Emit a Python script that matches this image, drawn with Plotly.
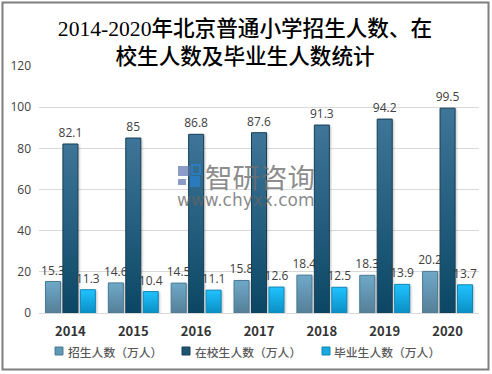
import plotly.graph_objects as go

years = ["2014", "2015", "2016", "2017", "2018", "2019", "2020"]
enrolled = [15.3, 14.6, 14.5, 15.8, 18.4, 18.3, 20.2]
in_school = [82.1, 85, 86.8, 87.6, 91.3, 94.2, 99.5]
graduates = [11.3, 10.4, 11.1, 12.6, 12.5, 13.9, 13.7]
series_names = ["招生人数（万人）", "在校生人数（万人）", "毕业生人数（万人）"]
title_text = "2014-2020年北京普通小学招生人数、在<br>校生人数及毕业生人数统计"

W, H = 492, 374
ML, MR, MT, MB = 39, 13, 66, 61
SANS = "Noto Sans CJK SC, Open Sans, sans-serif"
LABEL = "Open Sans, Noto Sans CJK SC, sans-serif"


def px(x):
    return (x - ML) / (W - ML - MR)


def py(y):
    return 1 - (y - MT) / (H - MT - MB)


def rect(x0, y0, x1, y1, fill, line=None, width=0):
    return dict(type="rect", xref="paper", yref="paper", x0=px(x0), x1=px(x1), y0=py(y0), y1=py(y1),
                line=dict(color=line or "rgba(0,0,0,0)", width=width), fillcolor=fill, layer="above")


fig = go.Figure()
styles = [("#5f97b5", "#4a7a94"), ("#1f5573", "#163f57"), ("#17a9e0", "#0f86b5")]
grads = [("#6fa9c8", "#557f98"), ("#3f7598", "#0b4765"), ("#20c2ff", "#0a8fc4")]
for name, vals, (fill, edge) in zip(series_names, [enrolled, in_school, graduates], styles):
    fig.add_trace(go.Bar(
        x=years, y=vals, name=name, showlegend=False,
        marker=dict(color=fill, line=dict(color=edge, width=1)),
        text=[str(v) for v in vals], textposition="outside",
        textfont=dict(family=LABEL, size=12, color="#404040"),
        constraintext="none", textangle=0, cliponaxis=False,
    ))

shapes = [
    rect(2.5, 2.5, 488.5, 369.5, "rgba(0,0,0,0)", "#7f7f7f", 2),
    rect(178, 166, 190, 176, "rgba(90,115,175,0.7)"),
    rect(178, 179, 186, 185, "rgba(90,115,175,0.7)"),
    rect(190, 176, 200, 187, "rgba(40,130,205,0.75)"),
    rect(192, 165, 200, 174, "rgba(0,0,0,0)", "rgba(40,130,205,0.75)", 2),
]

annotations = [
    dict(text="智研咨询", xref="paper", yref="paper", x=px(260), y=py(175.5), showarrow=False,
         font=dict(family=SANS, size=27.5, color="rgba(110,110,110,0.8)")),
    dict(text="www.chyxx.com", xref="paper", yref="paper", x=px(246), y=py(200), showarrow=False,
         font=dict(family="DejaVu Sans, sans-serif", size=17, color="rgba(100,100,100,0.75)")),
]

swatch_x = [55, 182, 322]
text_x = [66, 193, 332]
for name, sx, tx, (fill, edge) in zip(series_names, swatch_x, text_x, styles):
    shapes.append(rect(sx, 347, sx + 8, 355, fill, edge, 1))
    annotations.append(dict(text=name, xref="paper", yref="paper", x=px(tx), y=py(351),
                            xanchor="left", yanchor="middle", showarrow=False,
                            font=dict(family=SANS, size=11.8, color="#595959", weight=500)))

fig.update_layout(
    width=W, height=H, margin=dict(l=ML, r=MR, t=MT, b=MB, autoexpand=False),
    paper_bgcolor="white", plot_bgcolor="white",
    title=dict(text=title_text, x=0.498, xanchor="center", y=0.903, yanchor="top",
               font=dict(family="Liberation Serif, Noto Sans CJK SC, serif", size=21.6, color="#000000", weight=500)),
    barmode="group", bargap=0.167, bargroupgap=0.14,
    xaxis=dict(type="category", tickfont=dict(family=SANS, size=13, color="#333333", weight="bold"),
               ticks="", showline=True, linecolor="#d9d9d9", ticklabelstandoff=6),
    yaxis=dict(range=[0, 120], tickvals=[0, 20, 40, 60, 80, 100, 120],
               tickfont=dict(family=LABEL, size=12, color="#404040"),
               gridcolor="#d9d9d9", gridwidth=1, zeroline=False, ticks="", ticklabelstandoff=7),
    shapes=shapes, annotations=annotations,
)

post = """
document.body.style.margin='0';
document.documentElement.style.overflow='hidden';
(function(){
  var grads = %s;
  function paint(){
    var gd = document.querySelector('.plotly-graph-div');
    if(!gd) return;
    var svg = gd.querySelector('svg.main-svg');
    var NS = 'http://www.w3.org/2000/svg';
    var defs = svg.querySelector('defs');
    grads.forEach(function(g,i){
      if(!document.getElementById('bargrad'+i)){
        var lg = document.createElementNS(NS,'linearGradient');
        lg.setAttribute('id','bargrad'+i);
        lg.setAttribute('x1','0');lg.setAttribute('y1','0');lg.setAttribute('x2','0');lg.setAttribute('y2','1');
        [[0,g[0]],[1,g[1]]].forEach(function(s){
          var st = document.createElementNS(NS,'stop');
          st.setAttribute('offset',s[0]);st.setAttribute('stop-color',s[1]);
          lg.appendChild(st);
        });
        defs.appendChild(lg);
      }
    });
    gd.querySelectorAll('.barlayer .trace').forEach(function(tr,i){
      tr.querySelectorAll('.point path').forEach(function(p){
        p.style.fill = 'url(#bargrad'+i+')';
        p.style.filter = 'drop-shadow(1px 1px 1px rgba(0,0,0,0.25))';
      });
    });
  }
  paint();
  setTimeout(paint,100);
  setTimeout(paint,500);
})();
""" % str([list(g) for g in grads])

fig.write_html("out.html", post_script=post, config={"displayModeBar": False})
